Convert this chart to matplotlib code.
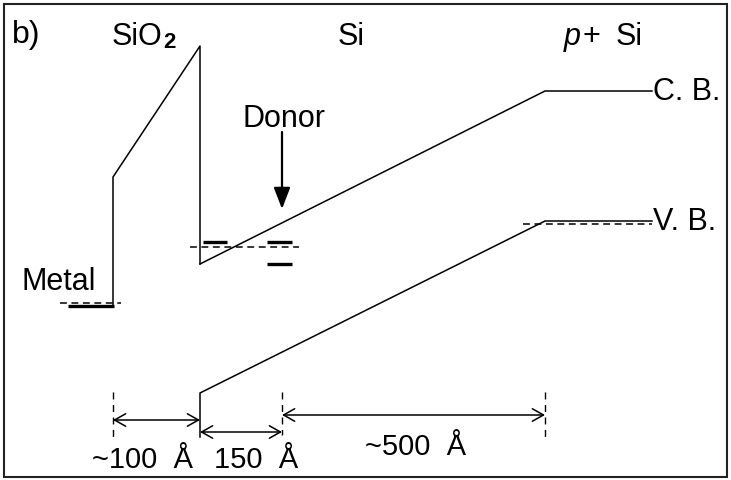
import matplotlib
matplotlib.use('Agg')
import matplotlib.pyplot as plt
from matplotlib.patches import Rectangle

plt.rcParams['font.family'] = ['Liberation Sans', 'DejaVu Sans']

# ---- diagram geometry (diagram units, y grows downward) ----
metal_fermi_x = [60, 121]
metal_fermi_y = [304, 304]
metal_level_x = [68, 114]
metal_level_y = [307, 307]
barrier_x = [113, 113, 200, 200]
barrier_y = [307, 178, 47, 265]
cb_x = [200, 545, 652]
cb_y = [265, 92, 92]
vb_x = [200, 200, 545, 652]
vb_y = [438, 394, 222, 222]
vb_fermi_x = [523, 652]
vb_fermi_y = [225, 225]
si_fermi_x = [190, 299]
si_fermi_y = [248, 248]
donor_bar_x0 = [203, 267, 267]
donor_bar_x1 = [227, 292, 292]
donor_bar_y = [243, 243, 265]
mark_x = [113, 282, 545]
mark_y0 = [393, 393, 393]
mark_y1 = [438, 436, 438]
dim_x0 = [113, 200, 282]
dim_x1 = [200, 282, 545]
dim_y = [421, 433, 416]
dim_labels = ['~100  Å', '150  Å', '~500  Å']
dim_label_x = [143, 256, 416]
dim_label_y = [468, 468, 455]

W, H = 731, 481
fig = plt.figure(figsize=(W / 100, H / 100), dpi=100)
ax = fig.add_axes([0, 0, 1, 1])
ax.set_xlim(0, W)
ax.set_ylim(H, 0)
ax.axis('off')

lw = 1.1
col = 'black'
dash = (4.5, 3)

# frame
ax.add_patch(Rectangle((4, 5), 723, 473, fill=False, lw=1.5, ec='#222222'))

# metal
ax.plot(metal_fermi_x, metal_fermi_y, color=col, lw=lw, ls=(0, dash))
ax.plot(metal_level_x, metal_level_y, color=col, lw=2.4, solid_capstyle='butt')
# barrier + conduction band
ax.plot(barrier_x, barrier_y, color=col, lw=lw)
ax.plot(cb_x, cb_y, color=col, lw=lw)
# valence band
ax.plot(vb_x, vb_y, color=col, lw=lw)
ax.plot(vb_fermi_x, vb_fermi_y, color=col, lw=lw, ls=(0, dash))
# Si fermi level & donor levels
ax.plot(si_fermi_x, si_fermi_y, color=col, lw=lw, ls=(0, dash))
for x0, x1, y in zip(donor_bar_x0, donor_bar_x1, donor_bar_y):
    ax.plot([x0, x1], [y, y], color=col, lw=2.4, solid_capstyle='butt')

# donor arrow
ax.annotate('', xy=(282, 210), xytext=(282, 133),
            arrowprops=dict(arrowstyle='-|>,head_length=1.3,head_width=0.5',
                            mutation_scale=10, lw=1.6, color=col,
                            shrinkA=0, shrinkB=0))

# dimension marks
for x, y0, y1 in zip(mark_x, mark_y0, mark_y1):
    ax.plot([x, x], [y0, y1], color=col, lw=1.0, ls=(0, (5, 4)))
for x0, x1, y in zip(dim_x0, dim_x1, dim_y):
    ax.annotate('', xy=(x1, y), xytext=(x0, y),
                arrowprops=dict(arrowstyle='<->,head_length=0.8,head_width=0.45',
                                mutation_scale=10, lw=1.1, color=col,
                                shrinkA=0, shrinkB=0))
fs = 22
for t, x, y in zip(dim_labels, dim_label_x, dim_label_y):
    ax.text(x, y, t, ha='center', va='baseline', fontsize=21)

# labels
ax.text(12, 43, 'b)', ha='left', va='baseline', fontsize=23)
ax.text(112, 45, 'SiO', ha='left', va='baseline', fontsize=fs)
ax.text(163, 48, '2', ha='left', va='baseline', fontsize=16, fontweight='bold')
ax.text(351, 45, 'Si', ha='center', va='baseline', fontsize=fs)
ax.text(564, 45, 'p', ha='left', va='baseline', fontsize=fs, style='italic')
ax.text(582, 45, '+', ha='left', va='baseline', fontsize=fs)
ax.text(616, 45, 'Si', ha='left', va='baseline', fontsize=fs)
ax.text(284, 127, 'Donor', ha='center', va='baseline', fontsize=fs)
ax.text(59, 290, 'Metal', ha='center', va='baseline', fontsize=fs)
ax.text(653, 92, 'C. B.', ha='left', va='center', fontsize=fs)
ax.text(653, 222, 'V. B.', ha='left', va='center', fontsize=fs)

fig.savefig('out.png', dpi=100)
